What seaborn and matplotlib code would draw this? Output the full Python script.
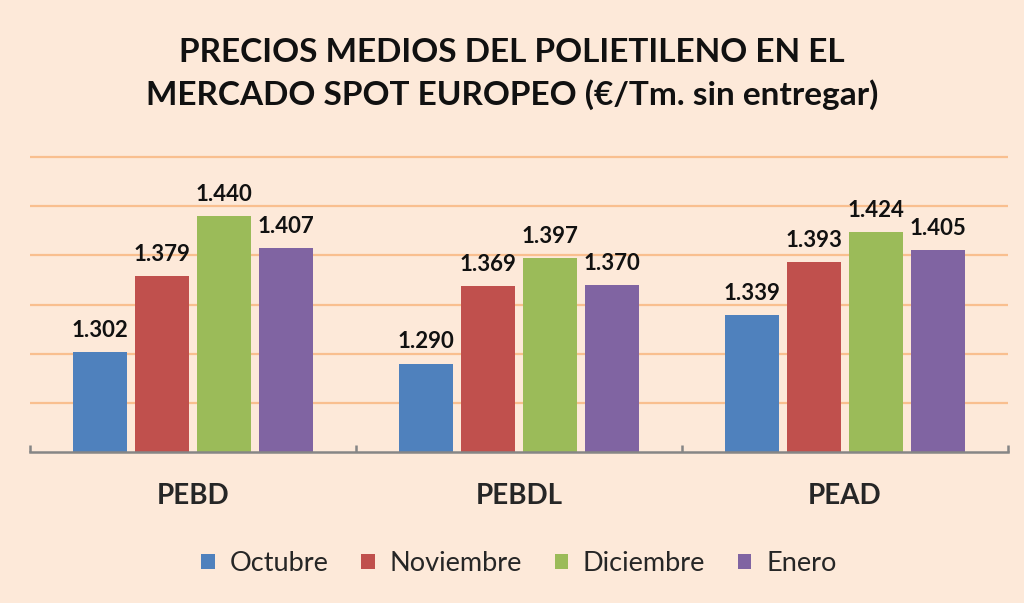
import matplotlib
matplotlib.use("Agg")
import matplotlib.pyplot as plt
import seaborn as sns
import pandas as pd

# data
categories = ["PEBD", "PEBDL", "PEAD"]
months = ["Octubre", "Noviembre", "Diciembre", "Enero"]
octubre = [1.302, 1.290, 1.339]
noviembre = [1.379, 1.369, 1.393]
diciembre = [1.440, 1.397, 1.424]
enero = [1.407, 1.370, 1.405]
colors = ["#4F81BD", "#C0504D", "#9BBB59", "#8064A2"]

rows = []
for month, vals in zip(months, [octubre, noviembre, diciembre, enero]):
    for cat, v in zip(categories, vals):
        rows.append({"producto": cat, "mes": month, "precio": v})
df = pd.DataFrame(rows)

bg = "#FDE9D9"
sns.set_theme(style="white")
plt.rcParams["font.family"] = ["Lato", "DejaVu Sans"]

fig = plt.figure(figsize=(10.24, 6.03), dpi=100, facecolor=bg)
# y range 1.20-1.505 so the top grid line is not clipped
ax = fig.add_axes([0.0293, 0.2504, 0.9551, 0.4892 * 0.305 / 0.30])
ax.set_facecolor(bg)

sns.barplot(data=df, x="producto", y="precio", hue="mes", order=categories,
            hue_order=months, palette=colors, width=0.76, gap=0.12,
            saturation=1, linewidth=0, ax=ax, legend=True)

ax.set_ylim(1.20, 1.505)
ax.set_xlim(-0.5, 2.5)
ax.set_yticks([1.25, 1.30, 1.35, 1.40, 1.45, 1.50])
ax.yaxis.grid(True, color="#F9BF8F", linewidth=1.6)
ax.set_axisbelow(True)
ax.tick_params(axis="y", left=False, labelleft=False)
ax.tick_params(axis="x", bottom=False, pad=16)
for s in ["top", "right", "left"]:
    ax.spines[s].set_visible(False)
ax.spines["bottom"].set_color("#868686")
ax.spines["bottom"].set_linewidth(1.8)
for xb in [-0.5, 0.5, 1.5, 2.5]:
    ax.plot([xb, xb], [1.20, 1.207], color="#868686", linewidth=1.8,
            clip_on=False, solid_capstyle="butt")

ax.set_xlabel("")
ax.set_ylabel("")
for lab in ax.get_xticklabels():
    lab.set_fontsize(20)
    lab.set_fontweight("bold")

for cont in ax.containers:
    ax.bar_label(cont, labels=[f"{v:.3f}" for v in cont.datavalues],
                 padding=8, fontsize=16, fontweight="bold", color="#111111")

ax.legend(loc="upper center", bbox_to_anchor=(0.5, -0.25), ncol=4,
          frameon=False, fontsize=19.5, handlelength=0.5, handleheight=0.5,
          handletextpad=0.55, columnspacing=1.2)

fig.text(0.5, 0.877, "PRECIOS MEDIOS DEL POLIETILENO EN EL\nMERCADO SPOT EUROPEO (€/Tm. sin entregar)",
         ha="center", va="center", fontsize=24, fontweight="bold",
         linespacing=1.48, color="#111111")

fig.savefig("out.png", dpi=100, facecolor=bg)
